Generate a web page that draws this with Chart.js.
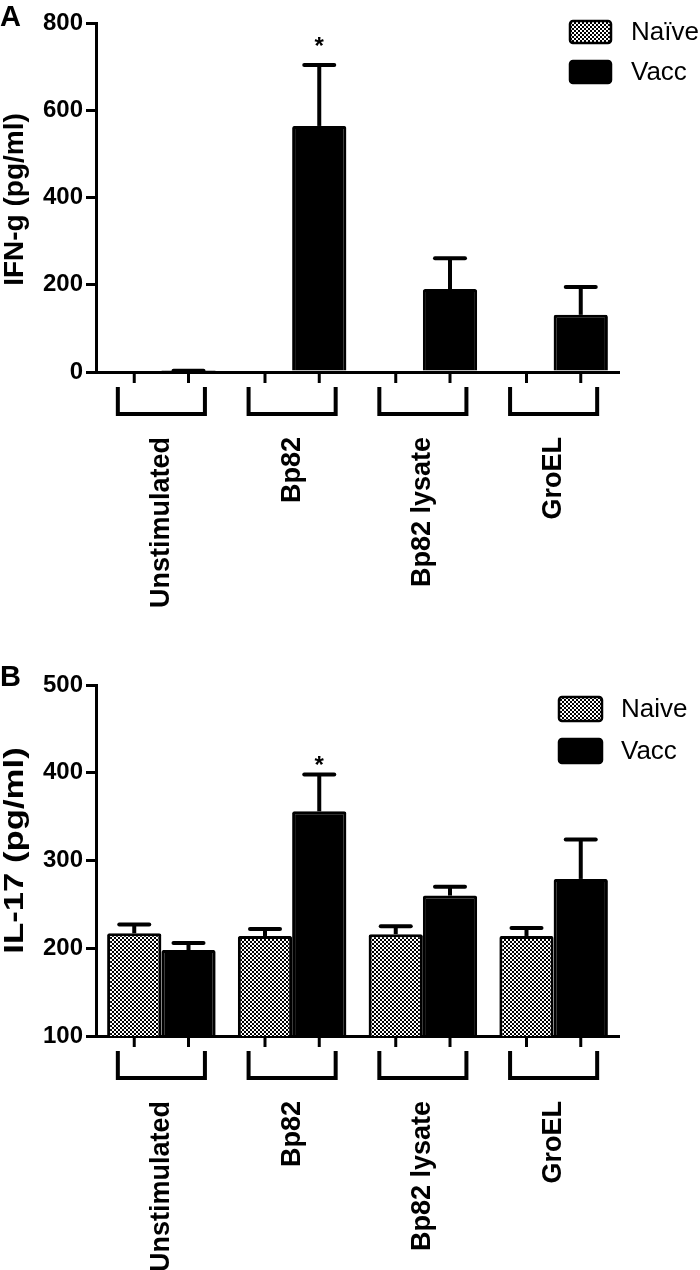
<!DOCTYPE html>
<html><head><meta charset="utf-8">
<script src="https://cdn.jsdelivr.net/npm/chart.js@4.4.1/dist/chart.umd.min.js"></script>
<style>
html,body{margin:0;padding:0;background:#fff;}
#wrap{width:700px;height:1270px;position:relative;overflow:hidden;}
.panel{position:absolute;left:0;width:700px;height:635px;}
canvas{display:block;}
</style></head><body>
<div id="wrap">
<div class="panel" style="top:0"><canvas id="cA" width="700" height="635"></canvas></div>
<div class="panel" style="top:635px"><canvas id="cB" width="700" height="635"></canvas></div>
</div>
<script>
// ---- data ----
const categories = ['Unstimulated', 'Bp82', 'Bp82 lysate', 'GroEL'];

const ifnNaive    = [0, 0, 0, 0];
const ifnNaiveErr = [0, 0, 0, 0];
const ifnVacc     = [1, 564, 190, 131];
const ifnVaccErr  = [2, 140, 71, 64];
const ifnStars    = ['', '*', '', ''];
const ifnTicks    = [0, 200, 400, 600, 800];

const il17Naive    = [217, 214, 216, 214];
const il17NaiveErr = [10, 8, 9, 9];
const il17Vacc     = [198, 356, 260, 279];
const il17VaccErr  = [8, 42, 10, 45];
const il17Stars    = ['', '*', '', ''];
const il17Ticks    = [100, 200, 300, 400, 500];

const FONT = '"Liberation Sans", Arial, Helvetica, sans-serif';

function makePattern() {
  const c = document.createElement('canvas');
  c.width = 4; c.height = 4;
  const g = c.getContext('2d');
  g.fillStyle = '#fff'; g.fillRect(0, 0, 4, 4);
  g.fillStyle = '#000'; g.fillRect(0, 0, 2, 2); g.fillRect(2, 2, 2, 2);
  return g.createPattern(c, 'repeat');
}
const checker = makePattern();

const decor = {
  id: 'decor',
  afterDatasetsDraw(chart, args, o) {
    const ctx = chart.ctx, ys = chart.scales.y;
    ctx.save();
    ctx.strokeStyle = '#000';
    ctx.fillStyle = '#000';
    o.errors.forEach((errs, di) => {
      const meta = chart.getDatasetMeta(di);
      const vals = chart.data.datasets[di].data;
      meta.data.forEach((el, j) => {
        const e = errs[j];
        if (!e) return;
        const yTop = ys.getPixelForValue(vals[j] + e);
        const yV = ys.getPixelForValue(vals[j]);
        ctx.lineWidth = 4; ctx.lineCap = 'butt';
        ctx.beginPath(); ctx.moveTo(el.x, yV); ctx.lineTo(el.x, yTop); ctx.stroke();
        ctx.lineCap = 'round';
        ctx.beginPath(); ctx.moveTo(el.x - o.capHalf, yTop); ctx.lineTo(el.x + o.capHalf, yTop); ctx.stroke();
        const s = o.stars[di] && o.stars[di][j];
        if (s) {
          ctx.font = 'bold 24px ' + FONT;
          ctx.textAlign = 'center'; ctx.textBaseline = 'middle';
          ctx.fillText(s, el.x, yTop - o.starGap + 5);
        }
      });
    });
    ctx.restore();
  },
  afterDraw(chart, args, o) {
    const ctx = chart.ctx, xs = chart.scales.x, area = chart.chartArea;
    ctx.save();
    ctx.strokeStyle = '#000'; ctx.fillStyle = '#000';
    ctx.lineWidth = 3; ctx.lineCap = 'butt';
    chart.data.datasets.forEach((ds, di) => {
      chart.getDatasetMeta(di).data.forEach(el => {
        ctx.beginPath(); ctx.moveTo(el.x, area.bottom); ctx.lineTo(el.x, area.bottom + 11); ctx.stroke();
      });
    });
    const cw = xs.width / chart.data.labels.length;
    const hw = cw * 0.333;
    ctx.lineWidth = 4; ctx.lineJoin = 'miter';
    chart.data.labels.forEach((l, i) => {
      const cx = xs.getPixelForValue(i);
      ctx.beginPath();
      ctx.moveTo(cx - hw, area.bottom + 15);
      ctx.lineTo(cx - hw, area.bottom + 42);
      ctx.lineTo(cx + hw, area.bottom + 42);
      ctx.lineTo(cx + hw, area.bottom + 15);
      ctx.stroke();
    });
    const L = o.legend;
    chart.data.datasets.forEach((ds, di) => {
      const y = L.y + di * L.rowH;
      ctx.fillStyle = ds.backgroundColor;
      ctx.beginPath();
      ctx.roundRect(L.x, y, L.w, L.h, 3);
      ctx.fill();
      ctx.lineWidth = 2.5; ctx.strokeStyle = '#000'; ctx.stroke();
      ctx.fillStyle = '#000';
      ctx.font = '26px ' + FONT;
      ctx.textAlign = 'left'; ctx.textBaseline = 'middle';
      ctx.fillText(ds.label, L.textX, y + L.h / 2 + 1);
    });
    ctx.save();
    ctx.translate(o.titleX, (area.top + area.bottom) / 2 + o.titleDy);
    ctx.rotate(-Math.PI / 2);
    ctx.scale(o.titleStretch, 1);
    ctx.font = 'bold 28px ' + FONT;
    ctx.textAlign = 'center'; ctx.textBaseline = 'middle';
    ctx.fillText(o.title, 0, 0);
    ctx.restore();
    ctx.font = 'bold 29px ' + FONT;
    ctx.textAlign = 'left'; ctx.textBaseline = 'top';
    ctx.fillText(o.letter, 0, o.letterY);
    ctx.restore();
  }
};

function makeChart(id, cfg) {
  return new Chart(document.getElementById(id), {
    type: 'bar',
    data: {
      labels: categories,
      datasets: [
        { label: cfg.naiveLabel, data: cfg.naive, backgroundColor: checker, borderColor: '#000', borderWidth: 3, borderRadius: 2 },
        { label: 'Vacc', data: cfg.vacc, backgroundColor: '#000', borderColor: '#000', borderWidth: 3, borderRadius: 2 }
      ]
    },
    options: {
      responsive: false, animation: false, devicePixelRatio: 1,
      layout: { padding: { top: cfg.top, right: 81, left: 0, bottom: 0 } },
      datasets: { bar: { categoryPercentage: 0.83, barPercentage: 1.0 } },
      plugins: {
        legend: { display: false }, tooltip: { enabled: false },
        decor: {
          errors: [cfg.naiveErr, cfg.vaccErr], stars: [[], cfg.stars],
          capHalf: 15, starGap: cfg.starGap,
          legend: cfg.legend,
          title: cfg.title, titleX: 15, titleDy: cfg.titleDy, titleStretch: cfg.titleStretch,
          letter: cfg.letter, letterY: cfg.letterY
        }
      },
      scales: {
        x: {
          grid: { display: false },
          border: { display: true, color: '#000', width: 3 },
          ticks: { color: '#000', font: { family: FONT, size: 27, weight: 'bold' }, minRotation: 90, maxRotation: 90, autoSkip: false, padding: 57 },
          afterFit(s) { s.height = cfg.xh; }
        },
        y: {
          min: cfg.ticks[0], max: cfg.ticks[cfg.ticks.length - 1],
          afterBuildTicks(s) { s.ticks = cfg.ticks.map(v => ({ value: v })); },
          grid: { drawOnChartArea: false, drawTicks: true, tickLength: 10, lineWidth: 3, color: '#000' },
          border: { display: true, color: '#000', width: 3 },
          ticks: { color: '#000', font: { family: FONT, size: 24, weight: 'bold' }, padding: 3 },
          afterFit(s) { s.width = 96; }
        }
      }
    },
    plugins: [decor]
  });
}

makeChart('cA', {
  naiveLabel: 'Naïve', naive: ifnNaive, naiveErr: ifnNaiveErr, vacc: ifnVacc, vaccErr: ifnVaccErr,
  stars: ifnStars, ticks: ifnTicks, top: 23, xh: 263, starGap: 23,
  legend: { x: 570, y: 21, w: 41, h: 22, rowH: 40, textX: 631 },
  title: 'IFN-g (pg/ml)', titleDy: 2, titleStretch: 1.0, letter: 'A', letterY: 3
});
makeChart('cB', {
  naiveLabel: 'Naive', naive: il17Naive, naiveErr: il17NaiveErr, vacc: il17Vacc, vaccErr: il17VaccErr,
  stars: il17Stars, ticks: il17Ticks, top: 50, xh: 234, starGap: 13,
  legend: { x: 559, y: 62, w: 43, h: 24, rowH: 42, textX: 621 },
  title: 'IL-17 (pg/ml)', titleDy: -10, titleStretch: 1.24, letter: 'B', letterY: 28
});
</script>
</body></html>
